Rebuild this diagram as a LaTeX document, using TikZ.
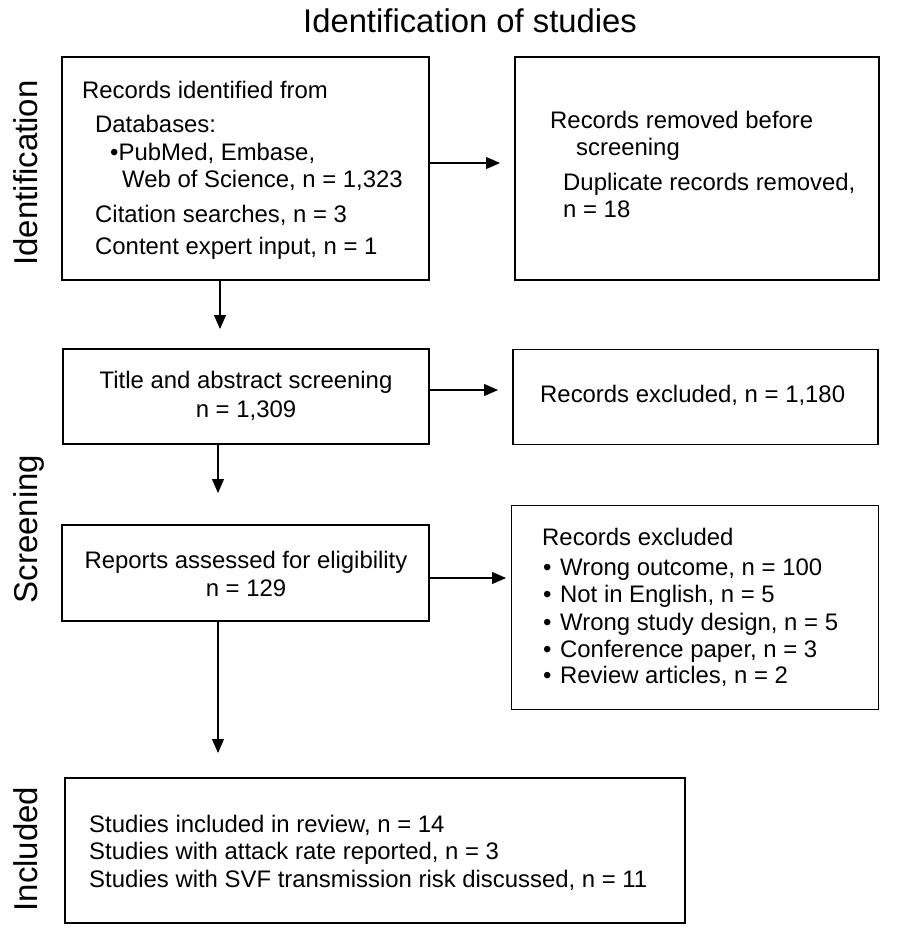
\documentclass[tikz,border=0pt]{standalone}
\usepackage{fontspec}
\setmainfont{Liberation Sans}
\usetikzlibrary{arrows.meta}
\begin{document}
\begin{tikzpicture}[x=1pt,y=-1pt,
  box/.style={draw, line width=1.8pt, inner sep=0pt, outer sep=0pt},
  txt/.style={anchor=base west, inner sep=0pt, font=\fontsize{23.9}{28}\selectfont},
  ctxt/.style={anchor=base, inner sep=0pt, font=\fontsize{23.9}{28}\selectfont},
  side/.style={rotate=90, anchor=base, inner sep=0pt, font=\fontsize{33}{40}\selectfont},
  ttl/.style={anchor=base, inner sep=0pt, font=\fontsize{32.8}{40}\selectfont},
  arr/.style={line width=1.1pt, -{Triangle[length=14pt,width=12pt]}}]
\fill[white] (0,0) rectangle (900,950);
\useasboundingbox (0,0) rectangle (900,950);

% title and side labels
\node[ttl] (title) at (470,33) {Identification of studies};
\node[side] (sid) at (37,173) {Identification};
\node[side] (sscr) at (37,529) {Screening};
\node[side] (sinc) at (37,849) {Included};

% boxes
\node[box, minimum width=367pt, minimum height=223pt] (b1) at (245.5,168.5) {};
\node[box, minimum width=364pt, minimum height=223pt] (b2) at (697,168.5) {};
\node[box, minimum width=366pt, minimum height=95pt] (b3) at (246,396.5) {};
\node[box, minimum width=365pt, minimum height=95pt] (b4) at (695.5,397) {};
\node[box, minimum width=367pt, minimum height=96pt] (b5) at (245.5,573) {};
\node[box, minimum width=367pt, minimum height=204pt] (b6) at (695,607.5) {};
\node[box, minimum width=620pt, minimum height=145pt] (b7) at (375,850.5) {};

% box 1 text
\node[txt] (t1a) at (82,98) {Records identified from};
\node[txt] (t1b) at (95,132) {Databases:};
\node[txt] (t1c) at (110,160) {•PubMed, Embase,};
\node[txt] (t1d) at (122,187) {Web of Science, n = 1,323};
\node[txt] (t1e) at (95,222) {Citation searches, n = 3};
\node[txt] (t1f) at (95,254) {Content expert input, n = 1};

% box 2 text
\node[txt] (t2a) at (550,128) {Records removed before};
\node[txt] (t2b) at (576,155) {screening};
\node[txt] (t2c) at (563,190) {Duplicate records removed,};
\node[txt] (t2d) at (563,217) {n = 18};

% box 3 text
\node[ctxt] (t3a) at (246,388) {Title and abstract screening};
\node[ctxt] (t3b) at (246,417) {n = 1,309};

% box 4 text
\node[txt] (t4a) at (540,402) {Records excluded, n = 1,180};

% box 5 text
\node[ctxt] (t5a) at (246,568) {Reports assessed for eligibility};
\node[ctxt] (t5b) at (246,596) {n = 129};

% box 6 text
\node[txt] (t6a) at (542,545) {Records excluded};
\node[txt] (t6b) at (543,575) {\makebox[17pt][l]{•}Wrong outcome, n = 100};
\node[txt] (t6c) at (543,602) {\makebox[17pt][l]{•}Not in English, n = 5};
\node[txt] (t6d) at (543,630) {\makebox[17pt][l]{•}Wrong study design, n = 5};
\node[txt] (t6e) at (543,657) {\makebox[17pt][l]{•}Conference paper, n = 3};
\node[txt] (t6f) at (543,683) {\makebox[17pt][l]{•}Review articles, n = 2};

% box 7 text
\node[txt] (t7a) at (89,832) {Studies included in review, n = 14};
\node[txt] (t7b) at (89,859) {Studies with attack rate reported, n = 3};
\node[txt] (t7c) at (89,887) {Studies with SVF transmission risk discussed, n = 11};

% arrows
\coordinate (h1) at (500,163);
\coordinate (h2) at (498,390);
\coordinate (h3) at (506,578);
\coordinate (v1) at (220,329);
\coordinate (v2) at (218,493);
\coordinate (v3) at (218,753);
\draw[arr] (b1.east |- h1) -- (h1);
\draw[arr] (b3.east |- h2) -- (h2);
\draw[arr] (b5.east |- h3) -- (h3);
\draw[arr] (b1.south -| v1) -- (v1);
\draw[arr] (b3.south -| v2) -- (v2);
\draw[arr] (b5.south -| v3) -- (v3);
\end{tikzpicture}
\end{document}
